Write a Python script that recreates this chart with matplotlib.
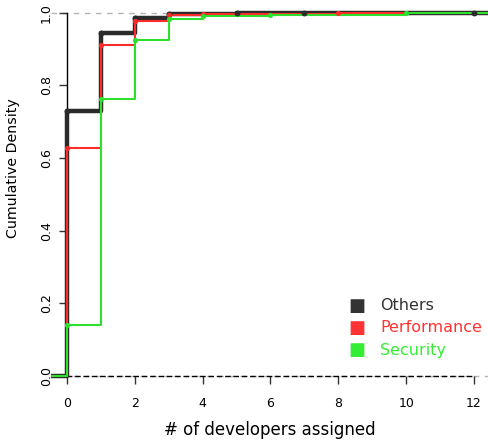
import matplotlib
matplotlib.use('Agg')
import matplotlib.pyplot as plt
import numpy as np

# ECDF knots (number of developers assigned) and cumulative density
others_x = [0, 1, 2, 3, 5, 7, 12]
others_y = [0.730, 0.945, 0.986, 0.997, 0.999, 0.9995, 1.0]
perf_x = [0, 1, 2, 3, 4, 8]
perf_y = [0.627, 0.910, 0.978, 0.993, 0.997, 1.0]
sec_x = [0, 1, 2, 3, 4, 6, 10]
sec_y = [0.140, 0.763, 0.926, 0.982, 0.991, 0.995, 1.0]

labels = ['Others', 'Performance', 'Security']
colors = ['#2b2b2b', '#ff2a2a', '#2ee02e']
text_colors = ['#333333', '#ff3333', '#33ee33']
widths = [3.2, 1.5, 1.5]

XMIN, XMAX = -0.48, 12.48

fig = plt.figure(figsize=(4.89, 4.43), dpi=100)
ax = fig.add_axes([50.7 / 489, 1 - 390.5 / 443, 439.6 / 489, 390.5 / 443])
ax.set_xlim(XMIN, XMAX)
ax.set_ylim(-0.04, 1.035)

# reference lines at 0 and 1
ax.axhline(0, color='#b3b3b3', linestyle=(0, (4, 4)), linewidth=1, zorder=1)
ax.axhline(1, color='#b3b3b3', linestyle=(0, (4, 4)), linewidth=1, zorder=1)

for xs, ys, c, lw in zip([others_x, perf_x, sec_x], [others_y, perf_y, sec_y], colors, widths):
    sx = [XMIN] + list(xs) + [XMAX]
    sy = [0] + list(ys) + [ys[-1]]
    ax.step(sx, sy, where='post', color=c, linewidth=lw, zorder=3)
    ax.scatter(xs, ys, s=18 if lw > 2 else 14, color=c, zorder=4, linewidths=0)

for s in ['top', 'right']:
    ax.spines[s].set_visible(False)
ax.spines['left'].set_position(('data', 0))
ax.spines['left'].set_bounds(0, 1)
ax.spines['left'].set_linewidth(1)
ax.spines['bottom'].set_position(('data', 0))
ax.spines['bottom'].set_bounds(0, 12)
ax.spines['bottom'].set_linestyle((0, (3, 3)))
ax.spines['bottom'].set_linewidth(1)
ax.spines['bottom'].set_zorder(2)

ax.set_xticks(range(0, 13, 2))
ax.set_yticks([0.0, 0.2, 0.4, 0.6, 0.8, 1.0])
ax.set_yticklabels(['0.0', '0.2', '0.4', '0.6', '0.8', '1.0'], rotation=90, va='center')
ax.tick_params(axis='both', length=6, width=1, labelsize=9, color='#333333')
ax.tick_params(axis='x', pad=9)
ax.tick_params(axis='y', pad=4)

fig.text(270 / 489, 1 - 430 / 443, '# of developers assigned', ha='center', va='center', fontsize=12)
fig.text(13 / 489, 1 - 168 / 443, 'Cumulative Density', ha='center', va='center', rotation=90, fontsize=10.2)

# legend
for i, (lab, c, tc) in enumerate(zip(labels, colors, text_colors)):
    yy = 1 - (306 + i * 22) / 443
    fig.text(357 / 489, yy, '\u25A0', color=tc, fontsize=13, ha='center', va='center')
    fig.text(380 / 489, yy, lab, color=tc, fontsize=11.5, ha='left', va='center')

fig.savefig('out.png', dpi=100)
